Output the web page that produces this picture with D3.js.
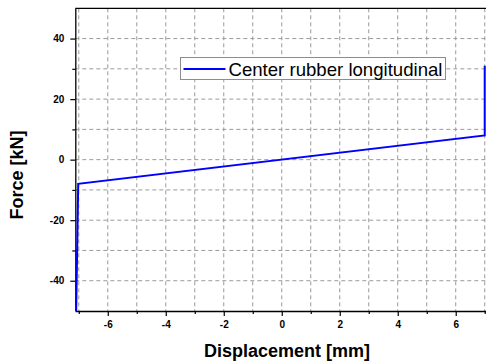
<!DOCTYPE html>
<html>
<head>
<meta charset="utf-8">
<script src="https://cdn.jsdelivr.net/npm/d3@7"></script>
<style>
  body { margin: 0; background: #fff; }
  text { font-family: Arial, "Liberation Sans", sans-serif; }
</style>
</head>
<body>
<div id="chart"></div>
<script>
// curve points: displacement [mm], force [kN]
const displacement = [-7.09, -7.02, 7.0, 7.0];
const force = [-50, -8, 8, 31];
const seriesName = "Center rubber longitudinal";
const xMajorTicks = [-6, -4, -2, 0, 2, 4, 6];
const xMinorTicks = [-7, -5, -3, -1, 1, 3, 5, 7];
const yMajorTicks = [-40, -20, 0, 20, 40];
const yMinorTicks = [-30, -10, 10, 30];

const width = 486;
const height = 363;
const plot = { left: 75.3, right: 488.2, top: 8.3, bottom: 311 };

const svg = d3.select("#chart").append("svg")
  .attr("width", width)
  .attr("height", height);

const x = d3.scaleLinear().domain([-7.12, 7.12]).range([plot.left, plot.right]);
const y = d3.scaleLinear().domain([-50, 50]).range([plot.bottom, plot.top]);
const plainNum = d => String(d);   // hyphen minus, as in the original

// dashed grid
const grid = svg.append("g")
  .attr("stroke", "#9a9a9a")
  .attr("stroke-width", 1)
  .attr("stroke-dasharray", "4,3");
grid.selectAll("line.vx")
  .data(xMajorTicks.concat(xMinorTicks))
  .enter().append("line")
  .attr("x1", d => x(d)).attr("x2", d => x(d))
  .attr("y1", plot.top).attr("y2", plot.bottom);
grid.selectAll("line.hy")
  .data(yMajorTicks.concat(yMinorTicks))
  .enter().append("line")
  .attr("y1", d => y(d)).attr("y2", d => y(d))
  .attr("x1", plot.left).attr("x2", plot.right);

// axes
svg.append("g")
  .attr("transform", `translate(0,${plot.bottom})`)
  .call(d3.axisBottom(x).tickValues(xMajorTicks).tickFormat(plainNum)
    .tickSize(5).tickPadding(5).tickSizeOuter(0));
svg.append("g")
  .attr("transform", `translate(0,${plot.bottom})`)
  .call(d3.axisBottom(x).tickValues(xMinorTicks).tickSize(3).tickFormat("").tickSizeOuter(0))
  .select(".domain").remove();

svg.append("g")
  .attr("transform", `translate(${plot.left},0)`)
  .call(d3.axisLeft(y).tickValues(yMajorTicks).tickFormat(plainNum)
    .tickSize(5).tickPadding(6).tickSizeOuter(0));
svg.append("g")
  .attr("transform", `translate(${plot.left},0)`)
  .call(d3.axisLeft(y).tickValues(yMinorTicks).tickSize(3).tickFormat("").tickSizeOuter(0))
  .select(".domain").remove();

svg.selectAll(".domain").attr("stroke", "#000").attr("stroke-width", 1.3);
svg.selectAll(".tick line").attr("stroke", "#000").attr("stroke-width", 1.2);
svg.selectAll(".tick text")
  .attr("font-size", 10)
  .attr("font-weight", "bold")
  .attr("font-family", "Arial, 'Liberation Sans', sans-serif")
  .attr("fill", "#000");

// top spine
svg.append("line")
  .attr("x1", plot.left).attr("x2", plot.right)
  .attr("y1", plot.top).attr("y2", plot.top)
  .attr("stroke", "#000").attr("stroke-width", 1.3);

// curve
const points = displacement.map((d, i) => [d, force[i]]);
svg.append("path")
  .datum(points)
  .attr("fill", "none")
  .attr("stroke", "#0000ff")
  .attr("stroke-width", 2)
  .attr("d", d3.line().x(d => x(d[0])).y(d => y(d[1])));

// legend
const legend = svg.append("g").attr("transform", "translate(180.5,57.5)");
legend.append("rect")
  .attr("width", 265).attr("height", 22)
  .attr("fill", "#fff")
  .attr("stroke", "#8c8c8c").attr("stroke-width", 1);
legend.append("line")
  .attr("x1", 3).attr("x2", 45).attr("y1", 11.5).attr("y2", 11.5)
  .attr("stroke", "#0000ff").attr("stroke-width", 2);
legend.append("text")
  .attr("x", 48).attr("y", 18)
  .attr("font-size", 18.6)
  .attr("fill", "#000")
  .text(seriesName);

// axis titles
svg.append("text")
  .attr("x", 287).attr("y", 357)
  .attr("text-anchor", "middle")
  .attr("font-size", 18)
  .attr("font-weight", "bold")
  .text("Displacement [mm]");
svg.append("text")
  .attr("transform", "rotate(-90)")
  .attr("x", -175).attr("y", 23)
  .attr("text-anchor", "middle")
  .attr("font-size", 18)
  .attr("font-weight", "bold")
  .text("Force [kN]");
</script>
</body>
</html>
